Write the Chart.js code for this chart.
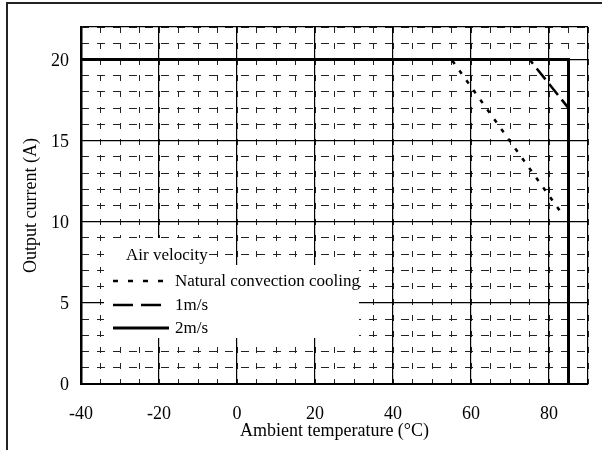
<!DOCTYPE html>
<html><head><meta charset="utf-8">
<script src="https://cdn.jsdelivr.net/npm/chart.js@4/dist/chart.umd.min.js"></script>
<style>
html,body{margin:0;padding:0;background:#fff;}
#wrap{position:relative;width:602px;height:450px;overflow:hidden;background:#fff;}
#frame{position:absolute;left:6px;top:2px;right:-5px;bottom:-5px;border-top:2px solid #222;border-left:2px solid #222;}
canvas{position:absolute;left:0;top:0;}
</style></head><body>
<div id="wrap"><div id="frame"></div><canvas id="c" width="602" height="450"></canvas></div>
<script>
// ---- data ----
const temperatureTicks = [-40, -20, 0, 20, 40, 60, 80];
const currentTicks = [0, 5, 10, 15, 20];
const naturalTemp = [-40, 55, 83];
const naturalCurrent = [20, 20, 10.6];
const v1Temp = [-40, 75, 85];
const v1Current = [20, 20, 17];
const v2Temp = [-40, 85, 85];
const v2Current = [20, 20, 0];
const seriesNames = ['Natural convection cooling', '1m/s', '2m/s'];
const legendTitle = 'Air velocity';
const xTitle = 'Ambient temperature (°C)';
const yTitle = 'Output current (A)';
const xMin = -40, xMax = 90, yMin = 0, yMax = 22;

const pts = (xs, ys) => xs.map((x, i) => ({x: x, y: ys[i]}));
const FONT = 'Liberation Serif';
const legendDash = [[5, 10], [20, 8], []];

const legendPlugin = {
  id: 'boxLegend',
  afterDatasetsDraw(chart) {
    const ctx = chart.ctx, a = chart.chartArea;
    const L = a.left, T = a.top;
    ctx.save();
    ctx.fillStyle = '#fff';
    ctx.fillRect(L + 23, T + 211, 103, 28);
    ctx.fillRect(L + 23, T + 238, 255, 73);
    ctx.fillStyle = '#000';
    ctx.font = '17px "' + FONT + '"';
    ctx.textBaseline = 'middle';
    ctx.fillText(legendTitle, L + 45, T + 229);
    const rows = [T + 254, T + 278, T + 301];
    chart.data.datasets.forEach((ds, i) => {
      const y = rows[i];
      ctx.beginPath();
      ctx.setLineDash(legendDash[i]);
      ctx.lineWidth = ds.borderWidth;
      ctx.strokeStyle = ds.borderColor;
      ctx.moveTo(L + 32, y);
      ctx.lineTo(L + 88, y);
      ctx.stroke();
      ctx.setLineDash([]);
      ctx.fillText(ds.label, L + 94, y + 1);
    });
    ctx.restore();
  }
};

const tickFont = {family: FONT, size: 18};

new Chart(document.getElementById('c'), {
  type: 'line',
  data: {
    datasets: [
      {label: seriesNames[0], data: pts(naturalTemp, naturalCurrent), borderColor: '#000', borderWidth: 2.5, borderDash: [4, 8], pointRadius: 0, tension: 0, fill: false},
      {label: seriesNames[1], data: pts(v1Temp, v1Current), borderColor: '#000', borderWidth: 2.5, borderDash: [14, 6], pointRadius: 0, tension: 0, fill: false},
      {label: seriesNames[2], data: pts(v2Temp, v2Current), borderColor: '#000', borderWidth: 3, pointRadius: 0, tension: 0, fill: false}
    ]
  },
  options: {
    responsive: false,
    animation: false,
    devicePixelRatio: 1,
    layout: {padding: {top: 27, right: 14, left: 0, bottom: 0}},
    plugins: {legend: {display: false}, tooltip: {enabled: false}},
    scales: {
      xMinor: {
        type: 'linear', position: 'bottom', min: xMin, max: xMax,
        ticks: {display: false, stepSize: 5, maxTicksLimit: 1000},
        grid: {color: '#222', lineWidth: 1, drawTicks: false},
        border: {display: false, dash: [6, 10]},
        afterFit: s => { s.height = 0; s.paddingLeft = 0; s.paddingRight = 0; }
      },
      yMinor: {
        type: 'linear', position: 'left', min: yMin, max: yMax,
        ticks: {display: false, stepSize: 1, maxTicksLimit: 1000},
        grid: {color: '#222', lineWidth: 1, drawTicks: false},
        border: {display: false, dash: [8, 8]},
        afterFit: s => { s.width = 0; }
      },
      x: {
        type: 'linear', position: 'bottom', min: xMin, max: xMax,
        afterBuildTicks: s => { s.ticks = temperatureTicks.concat([xMax]).map(v => ({value: v})); },
        ticks: {autoSkip: false, maxRotation: 0, padding: 19, color: '#000', font: tickFont,
          callback: v => temperatureTicks.includes(v) ? String(v) : ''},
        grid: {color: '#000', lineWidth: 1.2, drawTicks: false},
        border: {display: true, color: '#000', width: 2},
        title: {display: true, text: xTitle, color: '#000', font: tickFont, padding: {top: 0, bottom: 8}},
        afterFit: s => { s.height = 66; s.paddingLeft = 0; s.paddingRight = 0; }
      },
      y: {
        type: 'linear', position: 'left', min: yMin, max: yMax,
        afterBuildTicks: s => { s.ticks = currentTicks.concat([yMax]).map(v => ({value: v})); },
        ticks: {autoSkip: false, padding: 12, labelOffset: 1.5, color: '#000', font: tickFont,
          callback: v => currentTicks.includes(v) ? String(v) : ''},
        grid: {color: '#000', lineWidth: 1.2, drawTicks: false},
        border: {display: true, color: '#000', width: 2.5},
        title: {display: true, text: yTitle, color: '#000', font: tickFont, padding: {top: 20, bottom: 0}},
        afterFit: s => { s.width = 81; }
      }
    }
  },
  plugins: [legendPlugin]
});
</script>
</body></html>
